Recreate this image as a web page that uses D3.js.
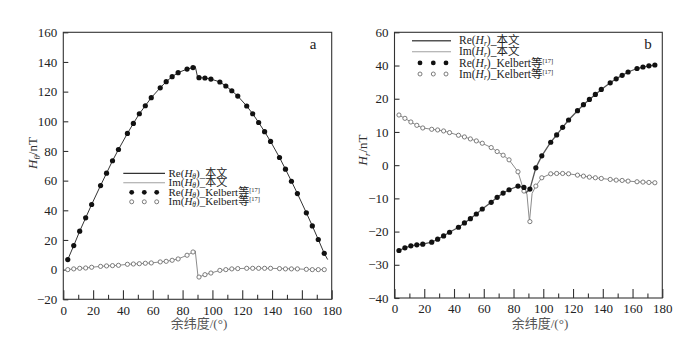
<!DOCTYPE html>
<html>
<head>
<meta charset="utf-8">
<script src="https://cdn.jsdelivr.net/npm/d3@7"></script>
<style>
  html, body { margin: 0; padding: 0; background: #fff; }
  svg text { font-family: "Liberation Serif", "Noto Sans CJK SC", serif; }
</style>
</head>
<body>
<div id="chart"></div>
<script>
// colatitudes of the Kelbert reference points (deg)
const colat = [3, 7, 11, 15, 19, 25, 29, 33, 37, 43, 47, 51, 55, 59, 65, 69, 73, 77, 83, 87,
  91, 95, 99, 105, 109, 113, 117, 123, 127, 131, 135, 139, 145, 149, 153, 157, 163, 167, 171, 175];

// panel a: H_theta
const reThetaKelbert = [6.8, 16.2, 25.9, 34.9, 43.9, 56.7, 65.0, 73.4, 81.0, 91.8, 98.6, 105.1, 110.5, 115.9,
  122.6, 126.7, 130.1, 132.8, 135.2, 136.2, 129.4, 129.2, 128.5, 126.5, 123.8, 120.6, 117.0, 110.3, 105.1,
  99.2, 93.0, 86.4, 75.6, 67.7, 59.6, 51.3, 38.3, 29.5, 20.3, 11.0];
const imThetaKelbert = [0.0, 0.5, 0.9, 1.1, 1.6, 2.2, 2.5, 2.7, 2.9, 3.6, 3.8, 4.0, 4.3, 4.5, 5.2, 5.6, 6.3,
  7.2, 9.7, 11.9, -5.0, -3.4, -2.3, -0.5, 0.0, 0.5, 0.7, 0.9, 0.9, 0.9, 0.9, 0.9, 0.7, 0.5, 0.5, 0.5, 0.2,
  0.0, 0.0, 0.0];
// model curves (this paper), [colatitude, value]
const reThetaModel = [[3, 6.8], [7, 16.2], [11, 25.9], [15, 34.9], [19, 43.9], [25, 56.7], [29, 65.0],
  [33, 73.4], [37, 81.0], [43, 91.8], [47, 98.6], [51, 105.1], [55, 110.5], [59, 115.9], [65, 122.6],
  [69, 126.7], [73, 130.1], [77, 132.8], [83, 135.2], [87, 136.2], [88.5, 137.0], [90, 130.0], [91, 129.4],
  [95, 129.2], [99, 128.5], [105, 126.5], [109, 123.8], [113, 120.6], [117, 117.0], [123, 110.3],
  [127, 105.1], [131, 99.2], [135, 93.0], [139, 86.4], [145, 75.6], [149, 67.7], [153, 59.6], [157, 51.3],
  [163, 38.3], [167, 29.5], [171, 20.3], [175, 11.0], [177.3, 6.8]];
const imThetaModel = [[1, -0.3], [3, 0.0], [7, 0.5], [11, 0.9], [15, 1.1], [19, 1.6], [25, 2.2], [29, 2.5],
  [33, 2.7], [37, 2.9], [43, 3.6], [47, 3.8], [51, 4.0], [55, 4.3], [59, 4.5], [65, 5.2], [69, 5.6],
  [73, 6.3], [77, 7.2], [83, 9.7], [87, 11.9], [88.5, 12.6], [90.4, -5.2], [91, -5.0], [95, -3.4],
  [99, -2.3], [105, -0.5], [109, 0.0], [113, 0.5], [117, 0.7], [123, 0.9], [139, 0.9], [145, 0.7],
  [157, 0.5], [163, 0.2], [175, 0.0]];

// panel b: H_r
const reRKelbert = [-25.7, -24.9, -24.3, -24.0, -23.8, -23.2, -22.3, -21.3, -20.2, -18.7, -17.4, -16.1,
  -14.7, -13.2, -11.2, -9.7, -8.4, -7.4, -6.3, -6.7, -7.2, -0.8, 2.8, 6.9, 9.1, 11.4, 13.6, 16.4, 18.2,
  19.8, 22.6, 25.6, 29.6, 32.0, 34.1, 36.1, 38.2, 39.1, 39.8, 40.3];
const imRKelbert = [15.1, 14.1, 13.0, 12.0, 11.2, 10.8, 10.6, 10.3, 9.8, 9.0, 8.5, 7.9, 7.3, 6.6, 5.3, 4.1,
  3.0, 1.6, -2.0, -7.8, -17.0, -6.3, -3.8, -2.6, -2.5, -2.5, -2.6, -3.0, -3.3, -3.6, -3.8, -4.0, -4.3,
  -4.5, -4.6, -4.8, -5.0, -5.1, -5.2, -5.3];
const reRModel = [[3, -25.7], [7, -24.9], [11, -24.3], [15, -24.0], [19, -23.8], [25, -23.2], [29, -22.3],
  [33, -21.3], [37, -20.2], [43, -18.7], [47, -17.4], [51, -16.1], [55, -14.7], [59, -13.2], [65, -11.2],
  [69, -9.7], [73, -8.4], [77, -7.4], [83, -6.3], [87, -6.7], [88.5, -8.3], [91, -7.2], [95, -0.8],
  [99, 2.8], [105, 6.9], [109, 9.1], [113, 11.4], [117, 13.6], [123, 16.4], [127, 18.2], [131, 19.8],
  [135, 22.6], [139, 25.6], [145, 29.6], [149, 32.0], [153, 34.1], [157, 36.1], [163, 38.2], [167, 39.1],
  [171, 39.8], [175, 40.3]];
const imRModel = [[3, 15.1], [7, 14.1], [11, 13.0], [15, 12.0], [19, 11.2], [25, 10.8], [29, 10.6],
  [33, 10.3], [37, 9.8], [43, 9.0], [47, 8.5], [51, 7.9], [55, 7.3], [59, 6.6], [65, 5.3], [69, 4.1],
  [73, 3.0], [77, 1.6], [83, -2.0], [87, -7.8], [89, -8.6], [90.7, -17.0], [92.5, -8.5], [95, -6.3],
  [99, -3.8], [105, -2.6], [109, -2.5], [113, -2.5], [117, -2.6], [123, -3.0], [127, -3.3], [131, -3.6],
  [135, -3.8], [139, -4.0], [145, -4.3], [149, -4.5], [153, -4.6], [157, -4.8], [163, -5.0], [167, -5.1],
  [171, -5.2], [175, -5.3]];

const xTicks = [0, 20, 40, 60, 80, 100, 120, 140, 160, 180];
const xMinorTicks = [10, 30, 50, 70, 90, 110, 130, 150, 170];
const yTicksA = [-20, 0, 20, 40, 60, 80, 100, 120, 140, 160];
// panel b axis is printed 60, 40, 20, 10, 0 ... in the original (uneven labels, even spacing)
const yTicksB = [-40, -30, -20, -10, 0, 10, 20, 40, 60];

const W = 700, H = 339;
const svg = d3.select('#chart').append('svg').attr('width', W).attr('height', H);
svg.append('rect').attr('width', W).attr('height', H).attr('fill', '#fff');

function fmt(v) { return v < 0 ? '\u2212' + Math.abs(v) : String(v); }

function drawPanel(p) {
  const x = d3.scaleLinear().domain([0, 180]).range([p.left, p.right]);
  const y = d3.scaleLinear().domain(p.yDomain).range(p.yRange);
  const g = svg.append('g');

  // frame
  g.append('rect')
    .attr('x', p.left).attr('y', p.top)
    .attr('width', p.right - p.left).attr('height', p.bottom - p.top)
    .attr('fill', 'none').attr('stroke', '#333').attr('stroke-width', 1.1);

  // bottom axis, ticks pointing inward
  g.append('g')
    .attr('transform', `translate(0,${p.bottom})`)
    .call(d3.axisBottom(x).tickValues(xTicks).tickSize(-9).tickPadding(6).tickFormat(fmt))
    .call((a) => a.select('.domain').remove())
    .call((a) => a.selectAll('line').attr('stroke', '#333').attr('stroke-width', 1.1))
    .call((a) => a.selectAll('text').attr('fill', '#222').style('font-size', '13px')
      .style('font-family', '"Liberation Serif", serif'));
  g.append('g')
    .attr('transform', `translate(0,${p.bottom})`)
    .call(d3.axisBottom(x).tickValues(xMinorTicks).tickSize(-4.5).tickFormat(''))
    .call((a) => a.select('.domain').remove())
    .call((a) => a.selectAll('line').attr('stroke', '#333').attr('stroke-width', 1.1));

  // left axis
  g.append('g')
    .attr('transform', `translate(${p.left},0)`)
    .call(d3.axisLeft(y).tickValues(p.yTicks).tickSize(-5).tickPadding(6).tickFormat(fmt))
    .call((a) => a.select('.domain').remove())
    .call((a) => a.selectAll('line').attr('stroke', '#333').attr('stroke-width', 1.1))
    .call((a) => a.selectAll('text').attr('fill', '#222').style('font-size', '13px')
      .style('font-family', '"Liberation Serif", serif'));

  // model curves
  const line = d3.line().x((d) => x(d[0])).y((d) => y(d[1]));
  g.append('path').datum(p.imModel).attr('d', line)
    .attr('fill', 'none').attr('stroke', '#8c8c8c').attr('stroke-width', 1);
  g.append('path').datum(p.reModel).attr('d', line)
    .attr('fill', 'none').attr('stroke', p.reColor).attr('stroke-width', p.reWidth);

  // Kelbert points
  g.selectAll('circle.im-dot')
    .data(colat.map((c, i) => [c, p.imKelbert[i]]))
    .join('circle')
    .attr('class', 'im-dot')
    .attr('cx', (d) => x(d[0])).attr('cy', (d) => y(d[1]))
    .attr('r', 2.1).attr('fill', '#fff').attr('stroke', '#6e6e6e').attr('stroke-width', 0.9);
  g.selectAll('circle.re-dot')
    .data(colat.map((c, i) => [c, p.reKelbert[i]]))
    .join('circle')
    .attr('class', 're-dot')
    .attr('cx', (d) => x(d[0])).attr('cy', (d) => y(d[1]))
    .attr('r', 2.6).attr('fill', '#111');

  // panel letter
  g.append('text').attr('x', p.letterX).attr('y', 49)
    .attr('text-anchor', 'middle').attr('fill', '#222').style('font-size', '15px')
    .text(p.letter);

  // axis titles
  g.append('text').attr('x', p.xTitleX).attr('y', 328)
    .attr('text-anchor', 'middle').attr('fill', '#555').style('font-size', '13px')
    .text('余纬度/(°)');
  const yt = g.append('text')
    .attr('transform', `translate(${p.yTitleX},${p.yTitleY}) rotate(-90)`)
    .attr('text-anchor', 'middle').attr('fill', '#333').style('font-size', '13px');
  yt.append('tspan').style('font-style', 'italic').text('H');
  yt.append('tspan').attr('dy', 3).style('font-size', '9px').style('font-style', 'italic').text(p.sub);
  yt.append('tspan').attr('dy', -3).text('/nT');

  // legend
  const L = p.legend;
  const rows = [
    { kind: 'line', re: true, tail: ')_本文' },
    { kind: 'line', re: false, tail: ')_本文' },
    { kind: 'dots', re: true, tail: ')_Kelbert等' },
    { kind: 'dots', re: false, tail: ')_Kelbert等' }
  ];
  rows.forEach((r, i) => {
    const cy = L.y0 + i * L.dy;
    if (r.kind === 'line') {
      g.append('line').attr('x1', L.x1).attr('x2', L.x2).attr('y1', cy).attr('y2', cy)
        .attr('stroke', r.re ? p.reColor : '#a0a0a0').attr('stroke-width', r.re ? p.reWidth + 0.2 : 1.1);
    } else {
      L.dots.forEach((dx) => {
        const c = g.append('circle').attr('cx', dx).attr('cy', cy);
        if (r.re) c.attr('r', 2.4).attr('fill', '#111');
        else c.attr('r', 2).attr('fill', '#fff').attr('stroke', '#6e6e6e').attr('stroke-width', 0.9);
      });
    }
    const t = g.append('text').attr('x', L.tx).attr('y', cy + 3.6)
      .attr('fill', '#222').style('font-size', L.fs + 'px');
    t.append('tspan').text(r.re ? 'Re(' : 'Im(');
    t.append('tspan').style('font-style', 'italic').text('H');
    t.append('tspan').attr('dy', 2).style('font-size', '7.5px').style('font-style', 'italic').text(p.sub);
    t.append('tspan').attr('dy', -2).text(r.tail);
    if (r.kind === 'dots') {
      t.append('tspan').attr('dy', -4).style('font-size', '6.5px').text('[17]');
    }
  });
}

drawPanel({
  left: 63.3, right: 331.7, top: 32.3, bottom: 299.3,
  yDomain: [-20, 160], yRange: [299.3, 32.3], yTicks: yTicksA,
  reKelbert: reThetaKelbert, imKelbert: imThetaKelbert,
  reModel: reThetaModel, imModel: imThetaModel,
  reColor: '#333', reWidth: 1,
  sub: 'θ', letter: 'a', letterX: 313,
  xTitleX: 199, yTitleX: 37, yTitleY: 153,
  legend: { x1: 123.3, x2: 165, tx: 168.5, y0: 173.3, dy: 9.5, fs: 11, dots: [131.7, 144.3, 156.7] }
});

drawPanel({
  left: 394.5, right: 662.3, top: 32.3, bottom: 298,
  // even tick spacing, labels jump from 20 to 40 to 60 on the upper two ticks
  yDomain: [-40, 20, 60], yRange: [298, 298 - 6 * 33.21, 32.3], yTicks: yTicksB,
  reKelbert: reRKelbert, imKelbert: imRKelbert,
  reModel: reRModel, imModel: imRModel,
  reColor: '#555', reWidth: 1.3,
  sub: 'r', letter: 'b', letterX: 648,
  xTitleX: 540, yTitleX: 367, yTitleY: 150,
  legend: { x1: 412, x2: 451, tx: 459, y0: 40.7, dy: 11.1, fs: 11.5, dots: [420, 433.3, 446] }
});
</script>
</body>
</html>
